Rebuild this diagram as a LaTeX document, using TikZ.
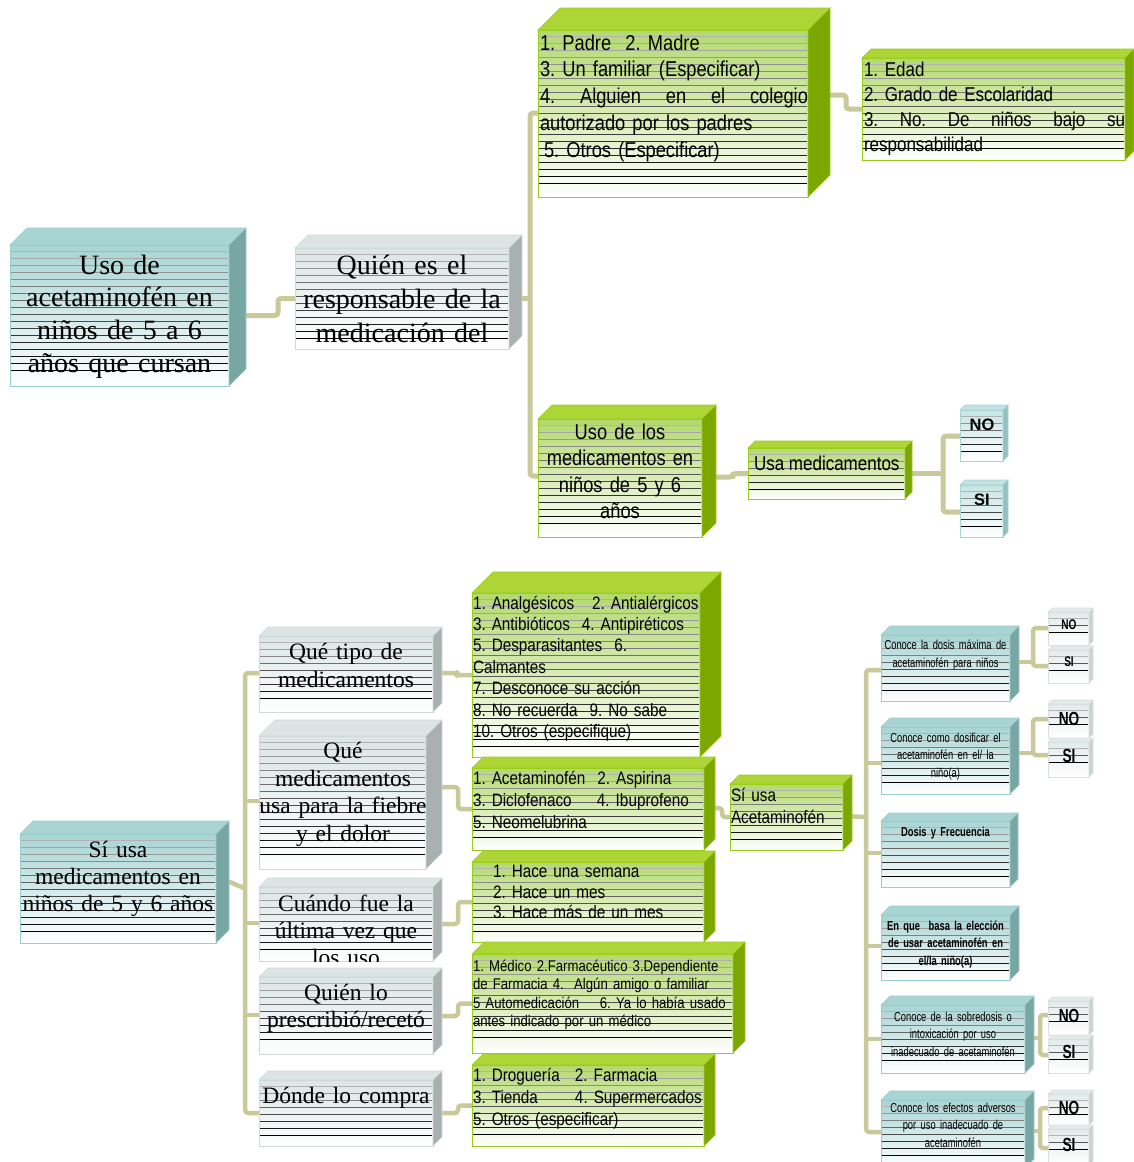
\documentclass[tikz,border=0pt]{standalone}
\usepackage{fontspec}
\setmainfont{Liberation Serif}
\newfontfamily\nsans[FakeStretch=0.85]{Liberation Sans}
\newfontfamily\csans[FakeStretch=0.72]{Liberation Sans}
\newfontfamily\psans{Liberation Sans}
\usetikzlibrary{backgrounds}
\hyphenpenalty=10000
\exhyphenpenalty=10000
\frenchspacing
\definecolor{connc}{HTML}{C9C99A}
\definecolor{tealtop}{HTML}{A8D4D4}\definecolor{tealside}{HTML}{78A6A3}\definecolor{tealfront}{HTML}{A8D4D4}\definecolor{tealedge}{HTML}{9CCDCD}
\definecolor{greytop}{HTML}{DCE4E4}\definecolor{greyside}{HTML}{A8B1AF}\definecolor{greyfront}{HTML}{DCE5E5}\definecolor{greyedge}{HTML}{D0DADA}
\definecolor{greentop}{HTML}{ADD536}\definecolor{greenside}{HTML}{7CA600}\definecolor{greenfront}{HTML}{B3D96E}\definecolor{greenedge}{HTML}{9ACD1A}
\definecolor{smalltop}{HTML}{C3E2E2}\definecolor{smallside}{HTML}{93C1C1}\definecolor{smallfront}{HTML}{C8E4E4}\definecolor{smalledge}{HTML}{A8D4D4}
\definecolor{lttop}{HTML}{E4EAEA}\definecolor{ltside}{HTML}{CBD3D3}\definecolor{ltfront}{HTML}{E4EAEA}\definecolor{ltedge}{HTML}{D8E0E0}
\tikzset{
  conn/.style={draw=connc, line width=4.5pt, rounded corners=3pt, line join=round},
  txt/.style={inner sep=0pt, outer sep=0pt, anchor=base},
  txtl/.style={inner sep=0pt, outer sep=0pt, anchor=base west, align=left},
}
\newcommand\spreadline[2]{\leavevmode\hbox to #1{#2}}
\newcommand\cubebox[7]{%
  \node[draw=#7edge, line width=1pt, top color=#7front, bottom color=white,
        inner sep=0pt, outer sep=0pt, minimum width={(#4)-(#2)}, minimum height={(#5)-(#3)},
        anchor=north west] (#1) at (#2,#3) {};
  \filldraw[fill=#7top, draw=#7edge, line width=0.6pt] (#1.north west) -- ++(#6pt,#6pt) -- ([shift={(#6pt,#6pt)}]#1.north east) -- (#1.north east) -- cycle;
  \filldraw[fill=#7side, draw=#7edge, line width=0.6pt] (#1.north east) -- ++(#6pt,#6pt) -- ([shift={(#6pt,#6pt)}]#1.south east) -- (#1.south east) -- cycle;
  \pgfmathtruncatemacro\nst{((#5)-(#3)-16)/7}%
  \foreach \i in {0,...,\nst} {%
    \pgfmathsetmacro\yy{#3+6+\i*7}%
    \pgfmathtruncatemacro\cc{30+70*\i/max(\nst,1)}%
    \draw[black!\cc, line width=0.5pt] (#2+1,\yy) -- (#4-1,\yy);}%
}
\begin{document}
\begin{tikzpicture}[x=1pt, y=-1pt]
\begin{pgfonlayer}{background}
\fill[white] (0,0) rectangle (1134,1162);
\end{pgfonlayer}
\useasboundingbox (0,0) rectangle (1134,1162);

% ---------- top part ----------
\cubebox{A}{10}{245}{229}{386}{17}{teal}
\cubebox{B}{295}{248}{509}{349}{13}{grey}
\cubebox{C}{538}{30}{808}{197}{22}{green}
\cubebox{E}{862}{58}{1125}{160}{9}{green}
\cubebox{D}{538}{419}{702}{537}{14}{green}
\cubebox{F}{748}{448}{905}{499}{7}{green}
\cubebox{NOa}{960}{410}{1003}{461}{5}{small}
\cubebox{SIa}{960}{485}{1003}{537}{5}{small}

\node[txt, font=\fontsize{28}{32.7}\selectfont, text width=219pt, align=center] (tA) at (119.5,274) {Uso de\\acetaminofén en\\niños de 5 a 6\\años que cursan};
\node[txt, font=\fontsize{28}{34}\selectfont, text width=214pt, align=center] (tB) at (402,274) {Quién es el\\responsable de la\\medicación del};
\node[txtl, font=\nsans\fontsize{21.5}{26.75}\selectfont, text width=280pt] (tC) at (540,50) {1. Padre~ 2. Madre\\3. Un familiar (Especificar)\\\spreadline{268pt}{4.\hfill Alguien\hfill en\hfill el\hfill colegio}\\autorizado por los padres\\\hspace*{4pt}5. Otros (Especificar)};
\node[txtl, font=\nsans\fontsize{20}{25.3}\selectfont, text width=270pt] (tE) at (864,76) {1. Edad\\2. Grado de Escolaridad\\\spreadline{261pt}{3.\hfill No.\hfill De\hfill niños\hfill bajo\hfill su}\\responsabilidad};
\node[txt, font=\nsans\fontsize{21.5}{26.5}\selectfont, text width=180pt, align=center] (tD) at (620,439) {Uso de los\\medicamentos en\\niños de 5 y 6\\años};
\node[txtl, font=\nsans\fontsize{20}{24}\selectfont] (tF) at (754,470) {Usa medicamentos};
\node[txt, font=\psans\bfseries\fontsize{16.5}{20}\selectfont] (tNOa) at (982,430.5) {NO};
\node[txt, font=\psans\bfseries\fontsize{16.5}{20}\selectfont] (tSIa) at (982,505.5) {SI};

% ---------- bottom left ----------
\cubebox{G}{20}{834}{216}{943}{13}{teal}
\cubebox{H}{259}{636}{433}{712}{9}{grey}
\cubebox{I}{259}{736}{426}{869}{16}{grey}
\cubebox{J}{259}{887}{433}{961}{9}{grey}
\cubebox{K}{259}{977}{433}{1054}{9}{grey}
\cubebox{L}{259}{1080}{433}{1146}{9}{grey}

\node[txt, font=\fontsize{23.5}{27}\selectfont, text width=210pt, align=center] (tG) at (118,857) {Sí usa\\medicamentos en\\niños de 5 y 6 años};
\node[txt, font=\fontsize{23.5}{28}\selectfont, text width=190pt, align=center] (tH) at (346,659.5) {Qué tipo de\\medicamentos};
\node[txt, font=\fontsize{23.5}{27.7}\selectfont, text width=200pt, align=center] (tI) at (343,758.5) {Qué\\medicamentos\\usa para la fiebre\\y el dolor};
\begin{scope}
\clip (J.north west) rectangle (J.south east);
\node[txt, font=\fontsize{23.5}{27}\selectfont, text width=190pt, align=center] (tJ) at (346,911) {Cuándo fue la\\última vez que\\los uso};
\end{scope}
\node[txt, font=\fontsize{23.5}{27}\selectfont, text width=190pt, align=center] (tK) at (346,1000.5) {Quién lo\\prescribió/recetó};
\node[txt, font=\fontsize{23.5}{27}\selectfont, text width=190pt, align=center] (tL) at (346,1103.5) {Dónde lo compra};

% ---------- bottom middle ----------
\cubebox{M}{472}{593}{700}{757}{21}{green}
\cubebox{N}{472}{768}{704}{850}{11}{green}
\cubebox{O}{472}{862}{704}{942}{11}{green}
\cubebox{P}{472}{954}{733}{1053}{12}{green}
\cubebox{Q}{472}{1065}{704}{1146}{11}{green}
\cubebox{R}{730}{784}{843}{850}{9}{green}

\node[txtl, font=\nsans\fontsize{18}{21.4}\selectfont, text width=260pt] (tM) at (473,609) {1. Analgésicos~~ 2. Antialérgicos\\3. Antibióticos~ 4. Antipiréticos\\5. Desparasitantes~ 6.\\Calmantes\\7. Desconoce su acción\\8. No recuerda~ 9. No sabe\\10. Otros (especifique)};
\node[txtl, font=\nsans\fontsize{18}{22}\selectfont, text width=250pt] (tN) at (473,784) {1. Acetaminofén~ 2. Aspirina\\\makebox[124pt][l]{3. Diclofenaco}4. Ibuprofeno\\5. Neomelubrina};
\node[txtl, font=\nsans\fontsize{18}{20.7}\selectfont, text width=230pt] (tO) at (493,877.5) {1. Hace una semana\\2. Hace un mes\\3. Hace más de un mes};
\node[txtl, font=\nsans\fontsize{15.5}{18.3}\selectfont, text width=280pt] (tP) at (473,971.5) {1. Médico 2.Farmacéutico 3.Dependiente\\de Farmacia 4.~ Algún amigo o familiar\\5 Automedicación~~~ 6. Ya lo había usado\\antes indicado por un médico};
\node[txtl, font=\nsans\fontsize{18}{22}\selectfont, text width=260pt] (tQ) at (473,1081.5) {\makebox[102pt][l]{1. Droguería}2. Farmacia\\\makebox[102pt][l]{3. Tienda}4. Supermercados\\5. Otros (especificar)};
\node[txtl, font=\nsans\fontsize{18}{22}\selectfont, text width=130pt] (tR) at (731,801) {Sí usa\\Acetaminofén};

% ---------- bottom right ----------
\cubebox{S}{881}{635}{1010}{701}{9}{teal}
\cubebox{T}{881}{727}{1010}{794}{9}{teal}
\cubebox{U}{881}{821}{1010}{887}{8}{teal}
\cubebox{V}{881}{915}{1010}{980}{9}{teal}
\cubebox{W}{881}{1005}{1025}{1073}{9}{teal}
\cubebox{X}{881}{1100}{1025}{1168}{9}{teal}
\cubebox{NOs}{1048}{612}{1089}{645}{4}{lt}
\cubebox{SIs}{1048}{650}{1089}{683}{4}{lt}
\cubebox{NOt}{1048}{704}{1089}{738}{4}{lt}
\cubebox{SIt}{1048}{742}{1089}{777}{4}{lt}
\cubebox{NOw}{1048}{1001}{1089}{1035}{4}{lt}
\cubebox{SIw}{1048}{1039}{1089}{1073}{4}{lt}
\cubebox{NOx}{1048}{1094}{1089}{1125}{4}{lt}
\cubebox{SIx}{1048}{1129}{1089}{1165}{4}{lt}

\node[txt, font=\csans\fontsize{13}{17.8}\selectfont, text width=140pt, align=center] (tS) at (945.5,649.5) {Conoce la dosis máxima de\\acetaminofén para niños};
\node[txt, font=\csans\fontsize{13}{17.8}\selectfont, text width=140pt, align=center] (tT) at (945.5,742) {Conoce como dosificar el\\acetaminofén en el/ la\\niño(a)};
\node[txt, font=\csans\bfseries\fontsize{13}{17.8}\selectfont, text width=140pt, align=center] (tU) at (945.5,836) {Dosis y Frecuencia};
\node[txt, font=\csans\bfseries\fontsize{13}{17.8}\selectfont, text width=140pt, align=center] (tV) at (945.5,930) {En que~ basa la elección\\de usar acetaminofén en\\el/la niño(a)};
\node[txt, font=\csans\fontsize{13}{17.8}\selectfont, text width=150pt, align=center] (tW) at (953,1021) {Conoce de la sobredosis o\\intoxicación por uso\\inadecuado de acetaminofén};
\node[txt, font=\csans\fontsize{13}{17.8}\selectfont, text width=150pt, align=center] (tX) at (953,1112) {Conoce los efectos adversos\\por uso inadecuado de\\acetaminofén};
\node[txt, font=\csans\bfseries\fontsize{14}{17}\selectfont] (tNOs) at (1069,629) {NO};
\node[txt, font=\csans\bfseries\fontsize{14}{17}\selectfont] (tSIs) at (1069,666) {SI};
\node[txt, font=\csans\bfseries\fontsize{19}{22}\selectfont] (tNOt) at (1069,725) {NO};
\node[txt, font=\csans\bfseries\fontsize{19}{22}\selectfont] (tSIt) at (1069,762) {SI};
\node[txt, font=\csans\bfseries\fontsize{19}{22}\selectfont] (tNOw) at (1069,1022) {NO};
\node[txt, font=\csans\bfseries\fontsize{19}{22}\selectfont] (tSIw) at (1069,1058) {SI};
\node[txt, font=\csans\bfseries\fontsize{19}{22}\selectfont] (tNOx) at (1069,1114) {NO};
\node[txt, font=\csans\bfseries\fontsize{19}{22}\selectfont] (tSIx) at (1069,1151) {SI};

% ---------- connectors ----------
\coordinate (jt1) at (530,113);
\coordinate (jt2) at (530,476);
\coordinate (jf) at (943,473.5);
\coordinate (jg1) at (245,673);
\coordinate (jg2) at (245,1113);
\coordinate (jr1) at (866,670);
\coordinate (jr2) at (866,1132);
\begin{pgfonlayer}{background}
\draw[conn, line width=5pt] (A.east) -- ++(49,0) |- (B.west);
\draw[conn, line width=5pt] (B.east) -- (B.east -| jt1);
\draw[conn, line width=5pt] (C.west |- jt1) -- (jt1) -- (jt2) -- (D.west |- jt2);
\draw[conn, line width=5pt] (C.east |- 0,95) -- (846,95) |- (E.west);
\draw[conn, line width=5pt] (D.east |- 0,477) -- (733,477) |- (F.west);
\draw[conn, line width=5pt] (F.east) -- (jf);
\draw[conn, line width=5pt] (NOa.west |- 0,436) -| (943,512) -- (SIa.west |- 0,512);

\draw[conn] (G.east |- 0,876) -- (G.east -| jg1);
\draw[conn] (H.west |- jg1) -- (jg1) -- (jg2) -- (L.west |- jg2);
\draw[conn] (I.west |- 0,801) -- ++(-14,0);
\draw[conn] (J.west |- 0,923) -- ++(-14,0);
\draw[conn] (K.west |- 0,1015) -- ++(-14,0);
\draw[conn] (H.east |- 0,673) -- (457,673) |- (M.west);
\draw[conn] (I.east |- 0,787) -- (458,787) |- (N.west);
\draw[conn] (J.east |- 0,924) -- (458,924) |- (O.west);
\draw[conn] (K.east |- 0,1016) -- (458,1016) |- (P.west);
\draw[conn] (L.east |- 0,1113) -- (458,1113) |- (Q.west);
\draw[conn] (N.east |- 0,808) -- (722,808) |- (R.west);

\draw[conn] (R.east |- 0,816) -- (R.east -| jr1);
\draw[conn] (S.west |- jr1) -- (jr1) -- (jr2) -- (X.west |- jr2);
\draw[conn] (T.west |- 0,763) -- ++(-15,0);
\draw[conn] (U.west |- 0,853) -- ++(-15,0);
\draw[conn] (V.west |- 0,946) -- ++(-15,0);
\draw[conn] (W.west |- 0,1039) -- ++(-15,0);

\draw[conn] (S.east |- 0,662) -- (1033,662);
\draw[conn] (NOs.west |- 0,628) -| (1033,666) -- (SIs.west |- 0,666);
\draw[conn] (T.east |- 0,753) -- (1033,753);
\draw[conn] (NOt.west |- 0,719) -| (1033,755) -- (SIt.west |- 0,755);
\draw[conn] (W.east |- 0,1038) -- (1040,1038);
\draw[conn] (NOw.west |- 0,1015) -| (1040,1055) -- (SIw.west |- 0,1055);
\draw[conn] (X.east |- 0,1131) -- (1040,1131);
\draw[conn] (NOx.west |- 0,1108) -| (1040,1148) -- (SIx.west |- 0,1148);
\end{pgfonlayer}
\end{tikzpicture}
\end{document}
